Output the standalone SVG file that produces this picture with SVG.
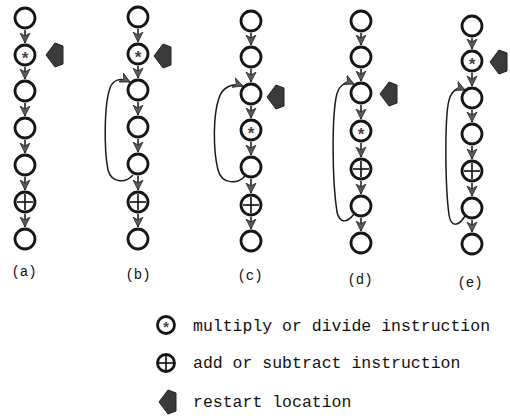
<svg xmlns="http://www.w3.org/2000/svg" width="510" height="419" viewBox="0 0 510 419">
<style>
.n{fill:#fff;stroke:#151515;stroke-width:2.8}
.e{stroke:#222;stroke-width:1.6;fill:none}
.lp{stroke:#1a1a1a;stroke-width:1.5;fill:none}
.st{font-family:"Liberation Mono","DejaVu Sans Mono",monospace;font-weight:bold;font-size:17px;fill:#444;text-anchor:middle}
.pl{stroke:#1a1a1a;stroke-width:1.7}
.lb{font-family:"Liberation Mono","Courier New",monospace;font-size:14px;fill:#111;text-anchor:middle}
.lg{font-family:"Liberation Mono","Courier New",monospace;font-size:16.5px;fill:#111}
.rs{fill:#3a3a3a;stroke:#222;stroke-width:1}
</style>
<defs>
<marker id="ah" markerUnits="userSpaceOnUse" markerWidth="12" markerHeight="12" refX="10" refY="5.5" orient="auto">
<path d="M0,0.5 L10,5.5 L0,10.5 L3,5.5 z" fill="#5a5a5a" stroke="#222" stroke-width="0.8"/>
</marker>
<polygon id="rm" points="0,0 9,-12 17,-9 17,9 9,12"/>
</defs>

<g id="connectors">
<!-- column a -->
<line class="e" x1="25" y1="30" x2="25" y2="43" marker-end="url(#ah)"/>
<line class="e" x1="25" y1="67" x2="25" y2="79" marker-end="url(#ah)"/>
<line class="e" x1="25" y1="103" x2="25" y2="116" marker-end="url(#ah)"/>
<line class="e" x1="25" y1="140" x2="25" y2="153" marker-end="url(#ah)"/>
<line class="e" x1="25" y1="177" x2="25" y2="190" marker-end="url(#ah)"/>
<line class="e" x1="25" y1="214" x2="25" y2="227" marker-end="url(#ah)"/>
<!-- column b -->
<line class="e" x1="138" y1="29" x2="138" y2="42" marker-end="url(#ah)"/>
<line class="e" x1="138" y1="66" x2="138" y2="78" marker-end="url(#ah)"/>
<line class="e" x1="138" y1="102" x2="138" y2="115" marker-end="url(#ah)"/>
<line class="e" x1="138" y1="139" x2="138" y2="152" marker-end="url(#ah)"/>
<line class="e" x1="138" y1="176" x2="138" y2="190" marker-end="url(#ah)"/>
<line class="e" x1="138" y1="214" x2="138" y2="227" marker-end="url(#ah)"/>
<path class="lp" d="M133,175 C126,183 112,184 108,170 C104,150 104,105 110,88 C113,80 120,77 130,82" marker-end="url(#ah)"/>
<!-- column c -->
<line class="e" x1="251" y1="33" x2="251" y2="45" marker-end="url(#ah)"/>
<line class="e" x1="251" y1="69" x2="251" y2="82" marker-end="url(#ah)"/>
<line class="e" x1="251" y1="106" x2="251" y2="118" marker-end="url(#ah)"/>
<line class="e" x1="251" y1="142" x2="251" y2="155" marker-end="url(#ah)"/>
<line class="e" x1="251" y1="179" x2="251" y2="193" marker-end="url(#ah)"/>
<line class="e" x1="251" y1="217" x2="251" y2="229" marker-end="url(#ah)"/>
<path class="lp" d="M245,176 C238,184 222,185 218,170 C213,150 213,115 219,98 C222,88 232,82 243,86" marker-end="url(#ah)"/>
<!-- column d -->
<line class="e" x1="361" y1="33" x2="361" y2="45" marker-end="url(#ah)"/>
<line class="e" x1="361" y1="69" x2="361" y2="81" marker-end="url(#ah)"/>
<line class="e" x1="361" y1="105" x2="361" y2="119" marker-end="url(#ah)"/>
<line class="e" x1="361" y1="143" x2="361" y2="157" marker-end="url(#ah)"/>
<line class="e" x1="361" y1="181" x2="361" y2="194" marker-end="url(#ah)"/>
<line class="e" x1="361" y1="218" x2="361" y2="231" marker-end="url(#ah)"/>
<path class="lp" d="M354,214 C348,222 340,225 337,212 C332,180 332,120 336,98 C338,86 345,80 354,84" marker-end="url(#ah)"/>
<!-- column e -->
<line class="e" x1="472" y1="38" x2="472" y2="49" marker-end="url(#ah)"/>
<line class="e" x1="472" y1="73" x2="472" y2="86" marker-end="url(#ah)"/>
<line class="e" x1="472" y1="110" x2="472" y2="122" marker-end="url(#ah)"/>
<line class="e" x1="472" y1="146" x2="472" y2="159" marker-end="url(#ah)"/>
<line class="e" x1="472" y1="183" x2="472" y2="196" marker-end="url(#ah)"/>
<line class="e" x1="472" y1="220" x2="472" y2="232" marker-end="url(#ah)"/>
<path class="lp" d="M465,216 C459,226 451,228 449,215 C445,185 445,125 448,105 C450,92 456,86 465,90" marker-end="url(#ah)"/>
</g>

<!-- column a nodes -->
<g id="a1"><circle class="n" cx="25" cy="18" r="10"/></g>
<g id="a2"><circle class="n" cx="25" cy="55" r="10"/><text class="st" x="25" y="64">*</text></g>
<g id="a3"><circle class="n" cx="25" cy="91" r="10"/></g>
<g id="a4"><circle class="n" cx="25" cy="128" r="10"/></g>
<g id="a5"><circle class="n" cx="25" cy="165" r="10"/></g>
<g id="a6"><circle class="n" cx="25" cy="202" r="10"/><line class="pl" x1="25" y1="194" x2="25" y2="210"/><line class="pl" x1="17" y1="202" x2="33" y2="202"/></g>
<g id="a7"><circle class="n" cx="25" cy="239" r="10"/></g>
<g id="a-restart"><use href="#rm" class="rs" x="46" y="55"/></g>
<g id="a-label"><text class="lb" x="24" y="276">(a)</text></g>

<!-- column b nodes -->
<g id="b1"><circle class="n" cx="138" cy="17" r="10"/></g>
<g id="b2"><circle class="n" cx="138" cy="54" r="10"/><text class="st" x="138" y="63">*</text></g>
<g id="b3"><circle class="n" cx="138" cy="90" r="10"/></g>
<g id="b4"><circle class="n" cx="138" cy="127" r="10"/></g>
<g id="b5"><circle class="n" cx="138" cy="164" r="10"/></g>
<g id="b6"><circle class="n" cx="138" cy="202" r="10"/><line class="pl" x1="138" y1="194" x2="138" y2="210"/><line class="pl" x1="130" y1="202" x2="146" y2="202"/></g>
<g id="b7"><circle class="n" cx="138" cy="239" r="10"/></g>
<g id="b-restart"><use href="#rm" class="rs" x="154" y="56"/></g>
<g id="b-label"><text class="lb" x="138" y="279">(b)</text></g>

<!-- column c nodes -->
<g id="c1"><circle class="n" cx="251" cy="21" r="10"/></g>
<g id="c2"><circle class="n" cx="251" cy="57" r="10"/></g>
<g id="c3"><circle class="n" cx="251" cy="94" r="10"/></g>
<g id="c4"><circle class="n" cx="251" cy="130" r="10"/><text class="st" x="251" y="139">*</text></g>
<g id="c5"><circle class="n" cx="251" cy="167" r="10"/></g>
<g id="c6"><circle class="n" cx="251" cy="205" r="10"/><line class="pl" x1="251" y1="197" x2="251" y2="213"/><line class="pl" x1="243" y1="205" x2="259" y2="205"/></g>
<g id="c7"><circle class="n" cx="251" cy="241" r="10"/></g>
<g id="c-restart"><use href="#rm" class="rs" x="267" y="97"/></g>
<g id="c-label"><text class="lb" x="250" y="280">(c)</text></g>

<!-- column d nodes -->
<g id="d1"><circle class="n" cx="361" cy="21" r="10"/></g>
<g id="d2"><circle class="n" cx="361" cy="57" r="10"/></g>
<g id="d3"><circle class="n" cx="361" cy="93" r="10"/></g>
<g id="d4"><circle class="n" cx="361" cy="131" r="10"/><text class="st" x="361" y="140">*</text></g>
<g id="d5"><circle class="n" cx="361" cy="169" r="10"/><line class="pl" x1="361" y1="161" x2="361" y2="177"/><line class="pl" x1="353" y1="169" x2="369" y2="169"/></g>
<g id="d6"><circle class="n" cx="361" cy="206" r="10"/></g>
<g id="d7"><circle class="n" cx="361" cy="243" r="10"/></g>
<g id="d-restart"><use href="#rm" class="rs" x="380" y="94"/></g>
<g id="d-label"><text class="lb" x="360" y="284">(d)</text></g>

<!-- column e nodes -->
<g id="e1"><circle class="n" cx="472" cy="26" r="10"/></g>
<g id="e2"><circle class="n" cx="472" cy="61" r="10"/><text class="st" x="472" y="70">*</text></g>
<g id="e3"><circle class="n" cx="472" cy="98" r="10"/></g>
<g id="e4"><circle class="n" cx="472" cy="134" r="10"/></g>
<g id="e5"><circle class="n" cx="472" cy="171" r="10"/><line class="pl" x1="472" y1="163" x2="472" y2="179"/><line class="pl" x1="464" y1="171" x2="480" y2="171"/></g>
<g id="e6"><circle class="n" cx="472" cy="208" r="10"/></g>
<g id="e7"><circle class="n" cx="472" cy="244" r="10"/></g>
<g id="e-restart"><use href="#rm" class="rs" x="490" y="62"/></g>
<g id="e-label"><text class="lb" x="470" y="287">(e)</text></g>

<!-- legend -->
<g id="legend-mul"><circle class="n" cx="166" cy="325" r="8.5"/><text class="st" x="166" y="333" style="font-size:15px">*</text><text class="lg" x="193" y="331">multiply or divide instruction</text></g>
<g id="legend-add"><circle class="n" cx="166" cy="363" r="8.5"/><line class="pl" x1="166" y1="356" x2="166" y2="370"/><line class="pl" x1="159" y1="363" x2="173" y2="363"/><text class="lg" x="193" y="368">add or subtract instruction</text></g>
<g id="legend-restart"><use href="#rm" class="rs" x="159" y="402"/><text class="lg" x="193" y="407">restart location</text></g>
</svg>
